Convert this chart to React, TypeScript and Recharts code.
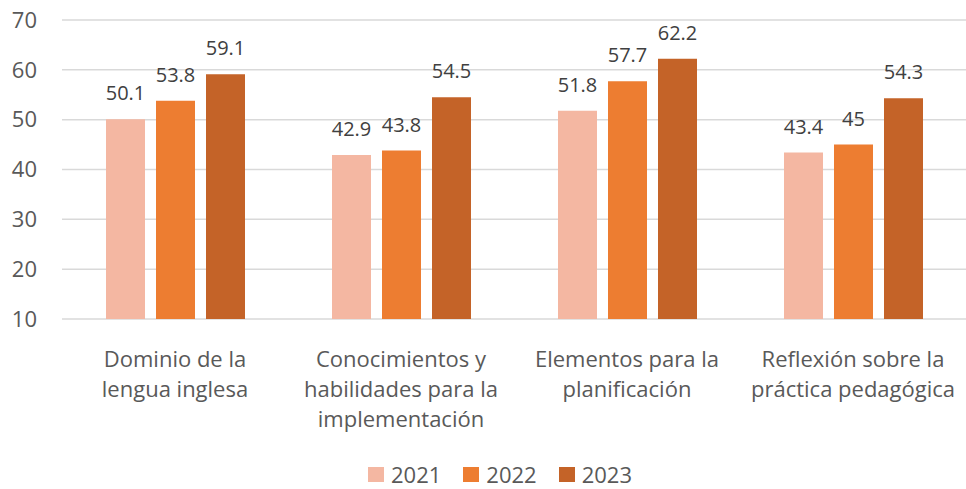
import React from 'react';
import { BarChart, Bar, XAxis, YAxis, CartesianGrid, Legend, LabelList } from 'recharts';

const categories = [
  'Dominio de la|lengua inglesa',
  'Conocimientos y|habilidades para la|implementación',
  'Elementos para la|planificación',
  'Reflexión sobre la|práctica pedagógica',
];
const years = ['2021', '2022', '2023'];
const values2021 = [50.1, 42.9, 51.8, 43.4];
const values2022 = [53.8, 43.8, 57.7, 45];
const values2023 = [59.1, 54.5, 62.2, 54.3];
const yTicks = [10, 20, 30, 40, 50, 60, 70];
const colors = ['#F4B7A2', '#ED7D31', '#C46328'];

const data = categories.map((c, i) => ({
  name: c,
  '2021': values2021[i],
  '2022': values2022[i],
  '2023': values2023[i],
}));

const FONT = '"Open Sans", sans-serif';
const TEXT = '#595959';

const CategoryTick = ({ x, y, payload }: any) => {
  const lines = String(payload.value).split('|');
  return (
    <text x={x} y={y} textAnchor="middle" fill={TEXT} fontSize={22} fontFamily={FONT}>
      {lines.map((l, i) => (
        <tspan key={i} x={x} y={y + 40 + i * 30}>{l}</tspan>
      ))}
    </text>
  );
};

const LegendContent = () => (
  <div
    style={{
      display: 'flex',
      justifyContent: 'center',
      alignItems: 'center',
      height: 30,
      paddingLeft: 34,
      fontFamily: FONT,
      fontSize: 22,
      lineHeight: '30px',
      color: TEXT,
    }}
  >
    {years.map((y, i) => (
      <div key={y} style={{ display: 'flex', alignItems: 'center', marginLeft: i ? 22 : 0 }}>
        <div style={{ width: 16, height: 15, background: colors[i], marginRight: 7 }} />
        <span>{y}</span>
      </div>
    ))}
  </div>
);

export default function App() {
  return (
    <div style={{ position: 'absolute', left: 0, top: 0, background: '#fff' }}>
      <BarChart
        width={966}
        height={489}
        data={data}
        margin={{ top: 20, right: 0, bottom: 0, left: 0 }}
        barGap={11}
        barSize={39}
      >
        <CartesianGrid vertical={false} stroke="#d9d9d9" strokeWidth={1.5} />
        <XAxis
          dataKey="name"
          axisLine={false}
          tickLine={false}
          height={140}
          interval={0}
          tick={<CategoryTick />}
        />
        <YAxis
          domain={[10, 70]}
          ticks={yTicks}
          width={62}
          axisLine={false}
          tickLine={false}
          tickSize={0}
          tickMargin={25}
          tick={{ fill: TEXT, fontSize: 22, fontFamily: FONT }}
        />
        <Legend verticalAlign="bottom" content={<LegendContent />} />
        {years.map((y, i) => (
          <Bar key={y} dataKey={y} fill={colors[i]} isAnimationActive={false}>
            <LabelList
              dataKey={y}
              position="top"
              offset={19}
              fill="#404040"
              fontSize={20}
              fontFamily={FONT}
            />
          </Bar>
        ))}
      </BarChart>
    </div>
  );
}
